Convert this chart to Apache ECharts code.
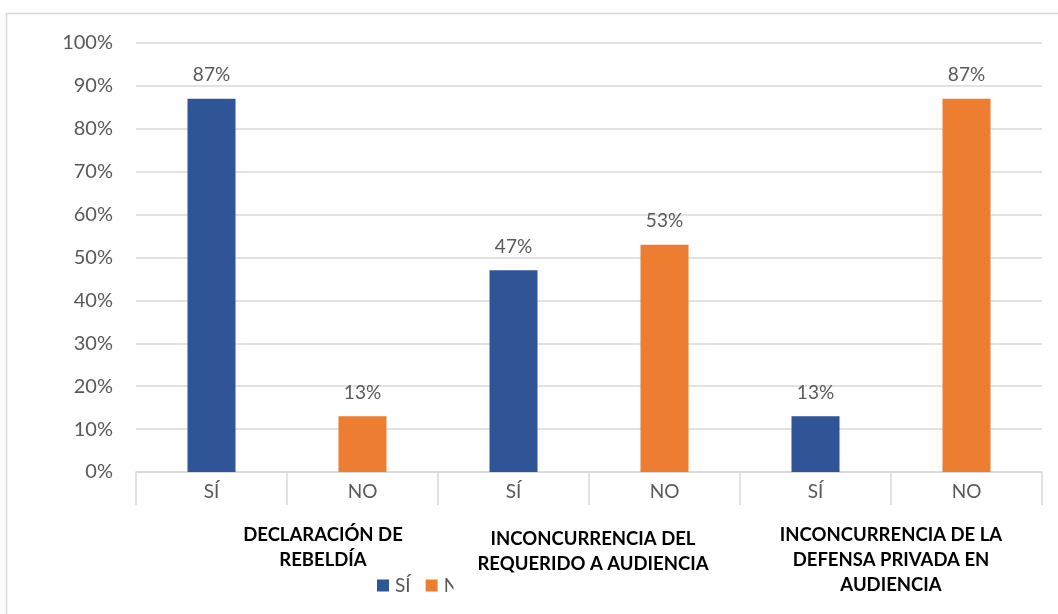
<!DOCTYPE html>
<html>
<head>
<meta charset="utf-8">
<script src="https://cdn.jsdelivr.net/npm/echarts@6/dist/echarts.min.js"></script>
<style>
  html, body { margin: 0; padding: 0; background: #fff; }
  #chart { width: 1058px; height: 614px; }
</style>
</head>
<body>
<div id="chart"></div>
<script>
// categories (inner level) and groups (outer level)
const categories = ["SÍ", "NO", "SÍ", "NO", "SÍ", "NO"];
const groups = [
  "DECLARACIÓN DE\nREBELDÍA",
  "INCONCURRENCIA DEL\nREQUERIDO A AUDIENCIA",
  "INCONCURRENCIA DE LA\nDEFENSA PRIVADA EN\nAUDIENCIA"
];
const siValues = [87, "-", 47, "-", 13, "-"];
const noValues = ["-", 13, "-", 53, "-", 87];
const yTicks = { min: 0, max: 100, interval: 10 };

const BLUE = "#2F5597";
const ORANGE = "#ED7D31";
const GRID = "#d9d9d9";
const TEXT = "#595959";
const FONT = "Lato, 'Open Sans', sans-serif";

const chart = echarts.init(document.getElementById("chart"));

const labelTop = {
  show: true,
  position: "top",
  distance: 14,
  formatter: "{c}%",
  color: TEXT,
  fontSize: 19,
  fontFamily: FONT
};

const option = {
  animation: false,
  graphic: [
    {
      type: "rect",
      shape: { x: 6.5, y: 13.5, width: 1100, height: 700 },
      style: { fill: "none", stroke: GRID, lineWidth: 1.5 },
      z: -1
    }
  ],
  grid: { left: 136, right: 16, top: 43, bottom: 142 },
  legend: {
    data: ["SÍ", "NO"],
    left: 372,
    top: 571,
    itemWidth: 12,
    itemHeight: 12,
    itemGap: 15,
    icon: "rect",
    textStyle: { color: TEXT, fontSize: 19, fontFamily: FONT, padding: [0, 0, 0, 1] },
    z: 4
  },
  xAxis: [
    {
      type: "category",
      data: categories,
      position: "bottom",
      axisLine: { show: true, lineStyle: { color: GRID, width: 1.5 } },
      axisTick: { show: true, length: 33, lineStyle: { color: GRID, width: 1.5 } },
      axisLabel: { color: TEXT, fontSize: 19, fontFamily: FONT, margin: 10 },
      splitLine: { show: false }
    },
    {
      type: "category",
      data: [
        { value: groups[0], textStyle: { padding: [0, 0, 0, 72] } },
        {
          value: groups[1],
          textStyle: { backgroundColor: "#fff", padding: [4, 16, 30, 24] }
        },
        { value: groups[2] }
      ],
      position: "bottom",
      z: 10,
      axisLine: { show: false },
      axisTick: { show: false },
      axisLabel: {
        color: "#000",
        fontSize: 18.5,
        fontWeight: "bold",
        fontFamily: FONT,
        lineHeight: 25,
        margin: 51,
        interval: 0
      }
    }
  ],
  yAxis: {
    type: "value",
    min: yTicks.min,
    max: yTicks.max,
    interval: yTicks.interval,
    axisLine: { show: false },
    axisTick: { show: false },
    axisLabel: {
      formatter: "{value}%",
      color: TEXT,
      fontSize: 20,
      fontFamily: FONT,
      margin: 23
    },
    splitLine: { lineStyle: { color: GRID, width: 1.5 } }
  },
  series: [
    {
      name: "SÍ",
      type: "bar",
      stack: "total",
      barWidth: 48,
      xAxisIndex: 0,
      data: siValues,
      itemStyle: { color: BLUE },
      label: labelTop
    },
    {
      name: "NO",
      type: "bar",
      stack: "total",
      barWidth: 48,
      xAxisIndex: 0,
      data: noValues,
      itemStyle: { color: ORANGE },
      label: labelTop
    }
  ]
};

chart.setOption(option);
</script>
</body>
</html>
